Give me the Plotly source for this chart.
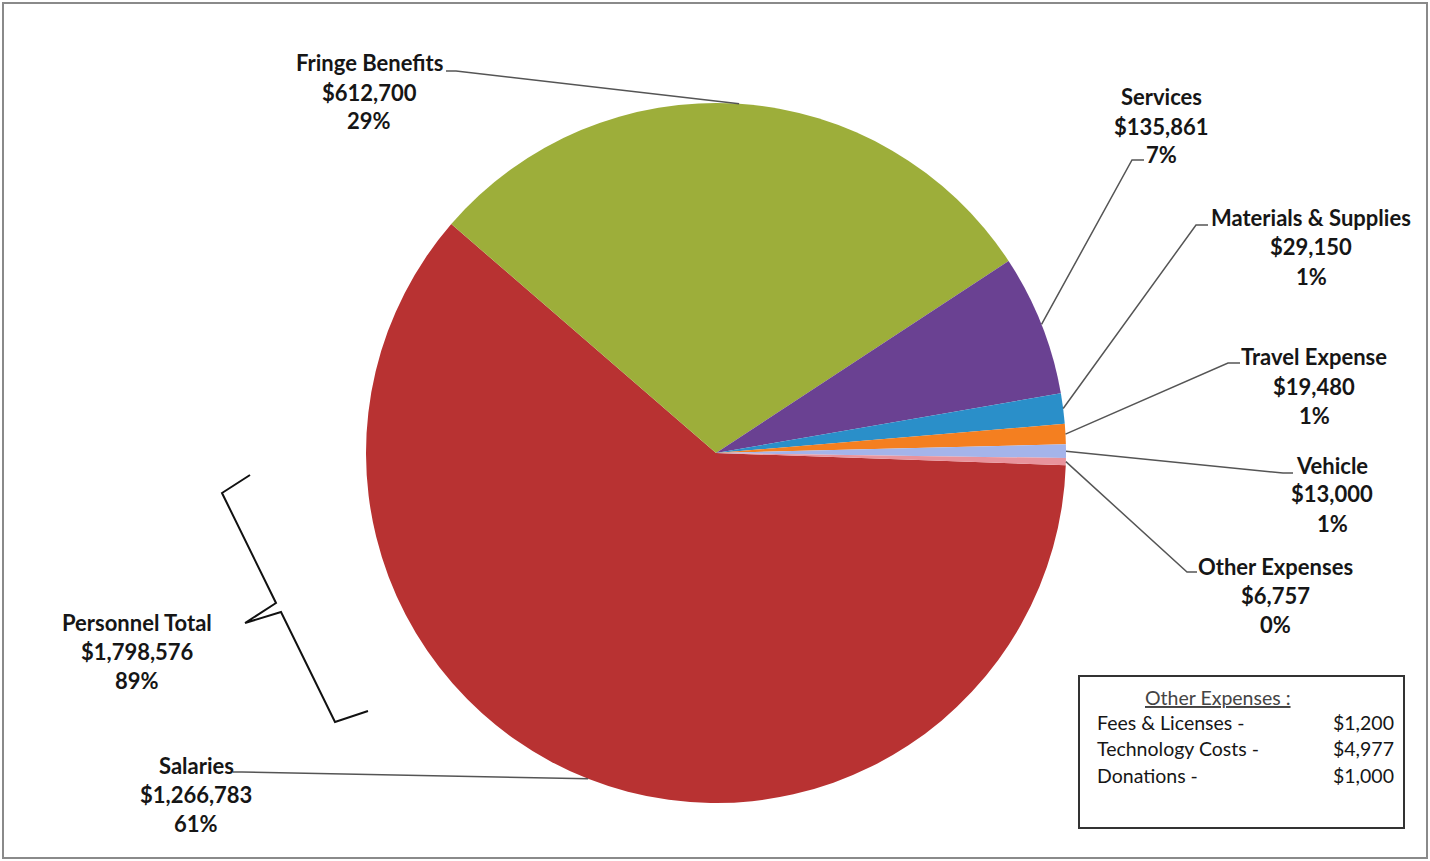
import math
import plotly.graph_objects as go

# ---------------- data ----------------
categories = ["Salaries", "Fringe Benefits", "Services", "Materials & Supplies",
              "Travel Expense", "Vehicle", "Other Expenses"]
values = [1266783, 612700, 135861, 29150, 19480, 13000, 6757]
colors = ["#B83232", "#9DAE3A", "#6A4192", "#2A8FC9", "#F47F20", "#A4B4EA", "#E8939C"]

personnel_lines = ["Personnel Total", "$1,798,576", "89%"]

other_title = "Other Expenses :"
other_items = ["Fees & Licenses -", "Technology Costs -", "Donations -"]
other_amounts = [1200, 4977, 1000]

# ---------------- layout helpers (pixel space) ----------------
W, H = 1430, 861
CX, CY, R = 716, 453, 350
ROTATION = 92  # degrees clockwise from 12 o'clock

def px(x):
    return x / W

def py(y):
    return 1 - y / H

FONT = "Lato, Carlito, Calibri, 'Open Sans', sans-serif"
TXT = "#161616"
LINE_GAP = 29
LBL_SIZE = 22
BOX_SIZE = 19.5

# label block positions (centre of first line) and leader elbow / end
label_pos = {
    "Salaries": (196, 765),
    "Fringe Benefits": (369, 63),
    "Services": (1161, 97),
    "Materials & Supplies": (1311, 218),
    "Travel Expense": (1314, 357),
    "Vehicle": (1332, 465),
    "Other Expenses": (1275, 566),
}
leader_pts = {
    "Salaries": ((242, 772), (233, 772)),
    "Fringe Benefits": ((456, 71), (446, 71)),
    "Services": ((1132, 160), (1144, 160)),
    "Materials & Supplies": ((1196, 225), (1208, 225)),
    "Travel Expense": ((1228, 363), (1240, 363)),
    "Vehicle": ((1283, 473), (1293, 473)),
    "Other Expenses": ((1187, 572), (1197, 572)),
}

fig = go.Figure()
fig.add_trace(go.Pie(
    labels=categories,
    values=values,
    sort=False,
    direction="clockwise",
    rotation=ROTATION,
    marker=dict(colors=colors, line=dict(width=0)),
    textinfo="none",
    hoverinfo="label+value+percent",
    showlegend=False,
    domain=dict(x=[px(CX - R), px(CX + R)], y=[py(CY + R), py(CY - R)]),
))

annotations = []
shapes = []

total = sum(values)
cum = 0
for cat, v in zip(categories, values):
    mid = ROTATION + 360 * (cum + v / 2) / total
    cum += v
    a = math.radians(mid)
    ex = CX + R * math.sin(a)
    ey = CY - R * math.cos(a)
    (bx, by), (fx, fy) = leader_pts[cat]
    shapes.append(dict(
        type="path", xref="paper", yref="paper",
        path=f"M{px(ex)},{py(ey)} L{px(bx)},{py(by)} L{px(fx)},{py(fy)}",
        line=dict(color="#555555", width=1.5),
    ))
    pct = f"{round(100 * v / total)}%"
    lines = [cat, f"${v:,}", pct]
    lx, ly = label_pos[cat]
    for i, t in enumerate(lines):
        annotations.append(dict(
            x=px(lx), y=py(ly + i * LINE_GAP), xref="paper", yref="paper",
            text=f"<b>{t}</b>", showarrow=False, xanchor="center", yanchor="middle",
            font=dict(family=FONT, size=LBL_SIZE, color=TXT),
        ))

# Personnel total label
for i, t in enumerate(personnel_lines):
    annotations.append(dict(
        x=px(137), y=py(622 + i * LINE_GAP), xref="paper", yref="paper",
        text=f"<b>{t}</b>", showarrow=False, xanchor="center", yanchor="middle",
        font=dict(family=FONT, size=LBL_SIZE, color=TXT),
    ))

# curly bracket
brace = [(250, 475), (222, 493), (276, 603), (245, 623)]
brace2 = [(245, 623), (281, 612), (335, 722), (368, 711)]
p = "M" + " L".join(f"{px(x)},{py(y)}" for x, y in brace)
p += " M" + " L".join(f"{px(x)},{py(y)}" for x, y in brace2)
shapes.append(dict(type="path", xref="paper", yref="paper", path=p,
                   line=dict(color="#111111", width=2)))

# Other expenses box
shapes.append(dict(type="rect", xref="paper", yref="paper",
                   x0=px(1079), x1=px(1404), y0=py(828), y1=py(676),
                   line=dict(color="#333333", width=2), fillcolor="white"))
annotations.append(dict(
    x=px(1218), y=py(697), xref="paper", yref="paper",
    text=f"<u>{other_title}</u>", showarrow=False, xanchor="center", yanchor="middle",
    font=dict(family=FONT, size=BOX_SIZE, color="#444444"),
))
for i, (item, amt) in enumerate(zip(other_items, other_amounts)):
    yy = 722 + i * 26.5
    annotations.append(dict(
        x=px(1095), y=py(yy), xref="paper", yref="paper", text=item,
        showarrow=False, xanchor="left", yanchor="middle",
        font=dict(family=FONT, size=BOX_SIZE, color=TXT),
    ))
    annotations.append(dict(
        x=px(1396), y=py(yy), xref="paper", yref="paper", text=f"${amt:,}",
        showarrow=False, xanchor="right", yanchor="middle",
        font=dict(family=FONT, size=BOX_SIZE, color=TXT),
    ))

# outer chart border
shapes.append(dict(type="rect", xref="paper", yref="paper",
                   x0=px(3), x1=px(1427), y0=py(858), y1=py(3),
                   line=dict(color="#8a8a8a", width=2)))

fig.update_layout(
    width=W, height=H,
    margin=dict(l=0, r=0, t=0, b=0),
    paper_bgcolor="white", plot_bgcolor="white",
    annotations=annotations, shapes=shapes,
    font=dict(family=FONT),
)

fig.write_html(
    "out.html",
    config={"displayModeBar": False},
    post_script="document.body.style.margin='0';document.body.style.overflow='hidden';",
)
